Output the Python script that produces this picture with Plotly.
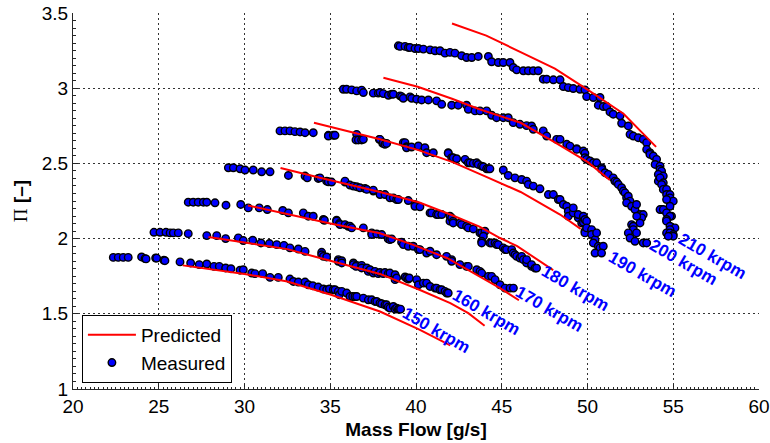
import plotly.graph_objects as go

# ---------------- data ----------------
speeds = ["150 krpm", "160 krpm", "170 krpm", "180 krpm", "190 krpm", "200 krpm", "210 krpm"]

meas_150 = [(22.35,1.875),(22.64,1.875),(22.93,1.875),(23.22,1.875),(24.0,1.878),(24.2,1.867),(24.26,1.865),
            (24.82,1.871),(24.88,1.87),(25.3,1.856),(25.36,1.853),(26.24,1.845),(26.86,1.838),(27.36,1.827),
            (27.8,1.831),(28.22,1.815),(28.53,1.815),(28.9,1.805),(29.21,1.80),(29.74,1.79),(29.93,1.793),
            (30.42,1.771),(30.61,1.767),(31.06,1.767),(31.49,1.742),(31.97,1.742),(32.65,1.731),(32.85,1.715),
            (33.14,1.711),(33.53,1.711),(33.72,1.693),(33.98,1.687),(34.3,1.678),(34.6,1.665),(34.79,1.66),
            (34.95,1.665),(35.18,1.66),(35.28,1.66),(35.47,1.649),(35.53,1.627),(35.67,1.649),(35.96,1.638),
            (36.15,1.615),(36.31,1.615),(36.44,1.615),(36.54,1.615),(36.93,1.604),(37.22,1.593),(37.42,1.593),
            (37.61,1.582),(37.71,1.582),(37.9,1.571),(38.0,1.567),(38.19,1.56),(38.29,1.56),(38.38,1.545),
            (38.48,1.538),(38.68,1.549),(38.78,1.531),(38.87,1.538),(38.97,1.531),(39.03,1.531),(39.1,1.531)]

meas_160 = [(24.72,2.042),(25.07,2.042),(25.42,2.042),(25.66,2.038),(25.85,2.038),(26.14,2.038),(26.72,2.033),
            (27.8,2.02),(28.38,2.02),(28.9,2.0),(29.64,2.005),(29.93,1.987),(30.48,1.989),(30.96,1.971),
            (31.45,1.967),(31.88,1.96),(32.3,1.955),(32.65,1.938),(33.14,1.931),(33.53,1.915),(34.5,1.909),
            (34.5,1.893),(34.6,1.882),(34.79,1.878),(35.47,1.86),(35.47,1.849),(35.67,1.853),(35.67,1.838),
            (36.35,1.838),(36.35,1.827),(36.54,1.822),(36.5,1.815),(36.83,1.822),(36.83,1.805),(37.13,1.805),
            (37.22,1.782),(37.32,1.793),(37.51,1.771),(37.61,1.782),(37.8,1.767),(37.9,1.775),(38.09,1.767),
            (38.19,1.775),(38.38,1.767),(38.48,1.771),(38.78,1.76),(38.78,1.727),(38.87,1.738),(39.36,1.745),
            (39.45,1.738),(39.55,1.731),(39.61,1.738),(40.04,1.727),(40.14,1.693),(40.43,1.704),(40.62,1.704),
            (40.82,1.682),(41.11,1.671),(41.2,1.671),(41.4,1.66),(41.5,1.66),(41.69,1.649),(41.79,1.638),
            (41.88,1.638)]

meas_170 = [(26.72,2.242),(27.01,2.242),(27.3,2.242),(27.6,2.242),(27.8,2.242),(28.28,2.238),(28.92,2.222),
            (29.78,2.227),(30.22,2.204),(30.86,2.204),(31.33,2.193),(32.23,2.187),(32.56,2.171),(33.43,2.171),
            (33.72,2.149),(34.01,2.149),(34.6,2.127),(34.66,2.122),(35.37,2.122),(35.37,2.116),(35.53,2.1),
            (35.57,2.093),(35.86,2.093),(36.05,2.082),(36.15,2.082),(36.25,2.071),(36.93,2.071),(37.42,2.038),
            (37.42,2.027),(37.71,2.031),(38.0,2.027),(38.38,1.998),(38.48,1.993),(38.58,1.998),(39.16,1.976),
            (39.26,1.96),(39.55,1.949),(39.84,1.949),(40.14,1.927),(40.23,1.927),(40.62,1.904),(40.82,1.916),
            (41.2,1.893),(41.78,1.882),(42.08,1.86),(42.08,1.849),(42.56,1.827),(42.95,1.815),(43.05,1.815),
            (43.54,1.793),(43.73,1.782),(43.83,1.771),(44.22,1.749),(44.41,1.749),(44.61,1.727),(44.9,1.693),
            (45.19,1.671),(45.48,1.671),(45.68,1.671)]

meas_180 = [(29.06,2.471),(29.35,2.471),(29.74,2.464),(30.03,2.456),(30.51,2.456),(31.0,2.444),(31.49,2.444),
            (32.56,2.42),(33.53,2.416),(33.66,2.404),(34.3,2.4),(34.4,2.404),(34.79,2.382),(34.89,2.378),
            (35.08,2.376),(35.86,2.376),(35.86,2.382),(36.15,2.356),(36.35,2.349),(36.54,2.345),(36.73,2.338),
            (37.03,2.333),(37.13,2.327),(37.51,2.316),(37.51,2.322),(37.9,2.293),(38.19,2.293),(38.48,2.271),
            (38.68,2.271),(38.87,2.26),(38.97,2.26),(39.55,2.253),(39.94,2.227),(39.94,2.215),(40.23,2.211),
            (40.82,2.171),(40.91,2.171),(41.2,2.16),(41.3,2.16),(41.5,2.16),(41.98,2.149),(41.98,2.116),
            (42.08,2.138),(42.17,2.116),(42.17,2.104),(42.56,2.104),(42.66,2.093),(42.95,2.082),(43.05,2.071),
            (43.34,2.064),(43.73,2.038),(43.83,2.038),(44.02,2.049),(43.93,2.016),(43.83,1.982),(43.83,1.971),
            (44.31,1.971),(44.41,1.971),(44.61,1.971),(44.7,1.96),(44.8,1.96),(45.09,1.938),(45.19,1.927),
            (45.28,1.927),(45.58,1.927),(45.67,1.904),(45.77,1.893),(45.87,1.882),(46.06,1.871),(46.16,1.882),
            (46.26,1.86),(46.45,1.838),(46.45,1.86),(46.74,1.815),(46.74,1.827),(46.94,1.804),(47.03,1.804)]

meas_190 = [(32.07,2.716),(32.36,2.716),(32.65,2.716),(32.94,2.711),(33.24,2.709),(33.53,2.704),(34.01,2.704),
            (34.89,2.687),(34.89,2.682),(35.18,2.687),(35.28,2.687),(36.54,2.693),(36.5,2.656),(36.64,2.656),
            (36.83,2.656),(36.93,2.66),(37.86,2.66),(37.9,2.66),(38.06,2.633),(38.09,2.638),(38.19,2.627),
            (38.29,2.633),(39.26,2.638),(39.36,2.638),(39.45,2.611),(39.45,2.604),(39.74,2.609),(40.14,2.616),
            (40.52,2.604),(40.62,2.571),(41.01,2.571),(41.88,2.571),(41.88,2.567),(42.08,2.538),(42.17,2.538),
            (42.37,2.531),(42.86,2.527),(43.05,2.504),(43.15,2.504),(43.34,2.5),(43.54,2.504),(43.63,2.493),
            (43.83,2.482),(43.93,2.478),(44.12,2.464),(44.22,2.464),(44.31,2.464),(45.09,2.456),(45.38,2.42),
            (45.77,2.404),(46.16,2.393),(46.45,2.382),(46.55,2.36),(46.84,2.349),(47.23,2.331),(47.72,2.293),
            (48.01,2.293),(48.3,2.26),(48.4,2.26),(48.59,2.227),(48.79,2.215),(48.88,2.182),(48.88,2.149),
            (49.17,2.171),(49.17,2.204),(49.46,2.138),(49.46,2.16),(49.66,2.104),(49.76,2.109),(49.76,2.149),
            (49.85,2.127),(49.95,2.116),(49.85,2.049),(49.85,2.038),(49.95,2.071),(50.24,2.049),(50.24,2.06),
            (50.24,2.027),(50.44,1.993),(50.34,1.971),(50.53,2.038),(50.63,1.949),(50.73,1.938),(50.92,1.949),
            (50.44,1.904),(50.82,1.904)]

meas_200 = [(35.76,2.993),(35.95,2.993),(36.25,2.989),(36.54,2.982),(36.83,2.987),(36.93,2.971),(37.51,2.967),
            (37.8,2.967),(37.9,2.971),(38.09,2.964),(38.39,2.953),(38.58,2.96),(38.68,2.96),(39.07,2.949),
            (39.16,2.944),(39.26,2.933),(39.65,2.942),(39.75,2.933),(40.04,2.927),(40.33,2.922),(40.72,2.922),
            (41.2,2.916),(41.5,2.893),(42.08,2.887),(42.46,2.887),(42.95,2.887),(43.05,2.86),(43.44,2.849),
            (43.73,2.849),(44.12,2.849),(44.41,2.82),(44.7,2.804),(45.09,2.804),(45.38,2.804),(45.67,2.771),
            (46.06,2.76),(46.45,2.751),(46.74,2.749),(46.84,2.727),(47.42,2.716),(47.62,2.682),(48.2,2.66),
            (48.4,2.66),(48.79,2.627),(48.98,2.615),(49.37,2.598),(49.37,2.593),(49.76,2.582),(49.85,2.567),
            (49.85,2.538),(49.95,2.527),(50.15,2.516),(50.34,2.504),(50.53,2.504),(50.83,2.471),(50.83,2.46),
            (51.02,2.438),(51.21,2.427),(51.5,2.404),(51.6,2.382),(51.7,2.376),(51.8,2.36),(51.99,2.338),
            (52.09,2.316),(52.19,2.304),(52.28,2.271),(52.38,2.282),(52.48,2.249),(52.28,2.238),(52.57,2.215),
            (52.77,2.193),(52.86,2.227),(53.06,2.16),(53.25,2.16),(53.16,2.138),(52.87,2.149),(53.06,2.104),
            (52.57,2.093),(52.67,2.082),(52.67,2.06),(52.86,2.038),(52.38,2.038),(52.48,2.004),(52.77,1.982),
            (53.25,1.971),(53.45,1.971)]

meas_210 = [(38.97,3.282),(39.07,3.278),(39.36,3.278),(39.55,3.271),(39.65,3.271),(39.94,3.264),(40.14,3.264),
            (40.43,3.26),(40.82,3.255),(41.11,3.249),(41.4,3.249),(41.69,3.233),(41.98,3.238),(42.27,3.233),
            (42.66,3.216),(42.95,3.204),(43.25,3.204),(43.63,3.211),(44.22,3.211),(44.41,3.176),(44.8,3.171),
            (45.09,3.171),(45.48,3.171),(45.67,3.138),(45.87,3.122),(46.26,3.116),(46.55,3.116),(46.84,3.116),
            (47.13,3.116),(47.42,3.06),(47.62,3.06),(48.01,3.056),(48.4,3.056),(48.59,3.011),(48.88,3.004),
            (49.17,2.998),(49.56,2.993),(49.85,2.989),(49.95,2.944),(50.34,2.938),(50.73,2.938),(50.63,2.887),
            (50.92,2.878),(51.12,2.878),(51.31,2.842),(51.5,2.827),(51.9,2.816),(51.99,2.767),(52.38,2.749),
            (52.48,2.693),(52.67,2.682),(52.96,2.671),(53.25,2.66),(53.45,2.638),(53.45,2.593),(53.64,2.571),
            (53.64,2.56),(53.84,2.549),(54.03,2.527),(53.94,2.493),(54.23,2.482),(54.23,2.46),(54.32,2.449),
            (54.13,2.427),(54.42,2.416),(54.13,2.382),(54.23,2.404),(54.42,2.371),(54.32,2.36),(54.42,2.327),
            (54.61,2.327),(54.61,2.293),(54.81,2.293),(54.81,2.271),(55.0,2.249),(54.61,2.26),(54.81,2.215),
            (54.33,2.193),(54.23,2.193),(54.42,2.193),(54.61,2.171),(54.9,2.149),(54.81,2.149),(54.61,2.127),
            (54.61,2.116),(54.81,2.082),(55.1,2.071),(54.81,2.06),(54.61,2.038),(54.81,2.038),(55.0,2.027),
            (55.0,2.016),(54.71,2.016)]

pred_150 = [(26.4,1.822),(30.0,1.765),(32.5,1.715),(35.0,1.628),(37.9,1.515),(40.2,1.395),(42.0,1.29)]
pred_160 = [(27.9,2.011),(30.0,1.975),(32.5,1.93),(34.4,1.871),(37.9,1.765),(40.2,1.66),(42.0,1.571),
            (43.05,1.504),(44.0,1.42)]
pred_170 = [(30.2,2.22),(35.0,2.10),(37.9,2.035),(39.8,1.96),(41.8,1.871),(43.7,1.749),(44.9,1.671),(46.0,1.59)]
pred_180 = [(32.1,2.47),(34.4,2.404),(37.9,2.31),(40.2,2.24),(42.0,2.16),(43.7,2.08),(44.9,2.004),
            (45.9,1.95),(48.0,1.79)]
pred_190 = [(34.05,2.77),(37.9,2.66),(40.1,2.59),(42.1,2.51),(44.1,2.41),(46.1,2.31),(48.4,2.16),(49.6,2.065)]
pred_200 = [(38.1,3.07),(40.1,3.01),(42.1,2.93),(43.7,2.86),(46.1,2.77),(48.1,2.64),(50.0,2.51),(51.3,2.39)]
pred_210 = [(42.1,3.43),(44.1,3.35),(46.1,3.24),(48.1,3.13),(50.0,2.99),(52.1,2.83),(54.0,2.61)]

label_x = [41.2, 44.1, 47.8, 49.3, 53.2, 55.6, 57.3]
label_y = [1.39, 1.51, 1.53, 1.67, 1.76, 1.84, 1.88]

x_ticks = [20, 25, 30, 35, 40, 45, 50, 55, 60]
y_ticks = [1, 1.5, 2, 2.5, 3, 3.5]

measured = [meas_150, meas_160, meas_170, meas_180, meas_190, meas_200, meas_210]
predicted = [pred_150, pred_160, pred_170, pred_180, pred_190, pred_200, pred_210]

# ---------------- figure ----------------
FONT = "Liberation Sans, Arial, Helvetica, sans-serif"
fig = go.Figure()

for i, pts in enumerate(measured):
    fig.add_trace(go.Scatter(
        x=[p[0] for p in pts], y=[p[1] for p in pts], mode="markers",
        name="Measured", showlegend=(i == 0), legendrank=2,
        marker=dict(size=7.5, color="#0000FF", line=dict(color="black", width=1.4)),
        hoverinfo="x+y"))

for i, pts in enumerate(predicted):
    fig.add_trace(go.Scatter(
        x=[p[0] for p in pts], y=[p[1] for p in pts], mode="lines",
        name="Predicted", showlegend=(i == 0), legendrank=1,
        line=dict(color="#FF0000", width=2), hoverinfo="x+y"))

for txt, lx, ly in zip(speeds, label_x, label_y):
    fig.add_annotation(x=lx, y=ly, text="<b>" + txt + "</b>", showarrow=False,
                       textangle=30, font=dict(family=FONT, size=17, color="#0000FF"),
                       xanchor="center", yanchor="middle")

axis_common = dict(
    showline=True, linecolor="#262626", linewidth=1, mirror=False,
    ticks="inside", ticklen=5, tickcolor="#262626", tickwidth=1,
    showgrid=True, gridcolor="#333333", griddash="2px,3px", gridwidth=1,
    zeroline=False, tickfont=dict(family=FONT, size=19, color="black"),
)

fig.update_xaxes(range=[20, 60], tickvals=x_ticks, **axis_common,
                 minor=dict(ticks="inside", ticklen=2.5, dtick=0.25, tick0=20, tickcolor="#262626", showgrid=False),
                 title=dict(text="<b>Mass Flow [g/s]</b>", font=dict(family=FONT, size=19, color="black"), standoff=6))
fig.update_yaxes(range=[1, 3.5], tickvals=y_ticks, **axis_common,
                 minor=dict(ticks="inside", ticklen=2.5, dtick=0.05, tick0=1, tickcolor="#262626", showgrid=False),
                 title=dict(text='<span style="font-family:Liberation Serif, Times New Roman, serif">Π</span> <b>[–]</b>',
                            font=dict(family=FONT, size=19, color="black"), standoff=9))

fig.update_layout(
    width=770, height=443,
    margin=dict(l=73, r=11, t=13, b=54, autoexpand=False),
    paper_bgcolor="white", plot_bgcolor="white",
    showlegend=True,
    legend=dict(x=0.013, y=0.016, xanchor="left", yanchor="bottom",
                bgcolor="white", bordercolor="black", borderwidth=1,
                font=dict(family=FONT, size=19, color="black"),
                itemwidth=48, tracegroupgap=0),
)

fig.write_html("out.html", config={"displayModeBar": False},
               post_script="document.body.style.margin='0';")
